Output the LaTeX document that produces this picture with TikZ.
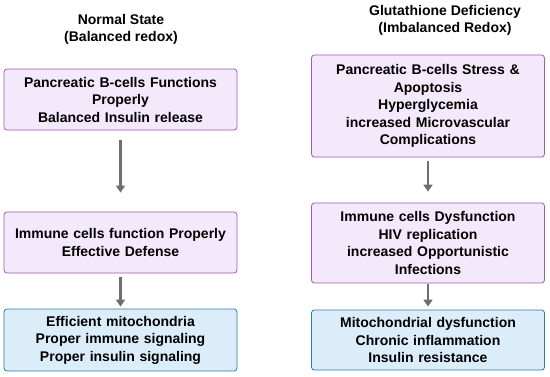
\documentclass[tikz,border=0pt]{standalone}
\usepackage{fontspec}
\setmainfont{Liberation Sans}
\usetikzlibrary{arrows.meta}
\definecolor{lavfill}{HTML}{F3E9FA}
\definecolor{lavdraw}{HTML}{9A5CB4}
\definecolor{bluefill}{HTML}{DCEDFA}
\definecolor{bluedraw}{HTML}{2F7BA8}
\definecolor{arrowgray}{HTML}{6E6E6E}
\tikzset{
  titletext/.style={align=center,font=\bfseries\fontsize{14}{17}\selectfont},
  purplebox/.style={draw=lavdraw,fill=lavfill,rounded corners=3pt,line width=0.8pt,
    minimum width=233pt,text width=229pt,align=center,inner sep=0pt,
    font=\bfseries\fontsize{14}{17.5}\selectfont},
  bluebox/.style={purplebox,draw=bluedraw,fill=bluefill},
  flow/.style={draw=arrowgray,line width=2.2pt,-{Triangle[length=7pt,width=9pt]}}
}
\begin{document}
\begin{tikzpicture}[x=1pt,y=-1pt]
				\useasboundingbox (0,0) rectangle (550,376);
				% left column
				\node[titletext] (normal) at (121,29.5) {Normal State\\(Balanced redox)};
				\node[purplebox,minimum height=61pt] (betaok) at (120.5,99.5) {Pancreatic B-cells Functions\\Properly\\Balanced Insulin release};
				\node[purplebox,minimum height=61pt] (immuneok) at (120.5,242.5) {Immune cells function Properly\\Effective Defense};
				\node[bluebox,minimum height=62pt] (mitook) at (120.5,340) {Efficient mitochondria\\Proper immune signaling\\Proper insulin signaling};
				% right column
				\node[titletext] (deficient) at (445,20.5) {Glutathione Deficiency\\(Imbalanced Redox)};
				\node[purplebox,minimum height=102pt] (betastress) at (428,106) {Pancreatic B-cells Stress \&\\Apoptosis\\Hyperglycemia\\increased Microvascular\\Complications};
				\node[purplebox,minimum height=80pt] (immunebad) at (428,243) {Immune cells Dysfunction\\HIV replication\\increased Opportunistic\\Infections};
				\node[bluebox,minimum height=60pt] (mitobad) at (428,340) {Mitochondrial dysfunction\\Chronic inflammation\\Insulin resistance};
				% arrows
				\draw[flow,shorten <=10pt,shorten >=19pt] (betaok) -- (immuneok);
				\draw[flow,shorten <=4pt,shorten >=2pt] (immuneok) -- (mitook);
				\draw[flow,shorten <=4pt,shorten >=11pt] (betastress) -- (immunebad);
				\draw[flow,shorten <=1pt,shorten >=3pt] (immunebad) -- (mitobad);
\end{tikzpicture}
\end{document}
